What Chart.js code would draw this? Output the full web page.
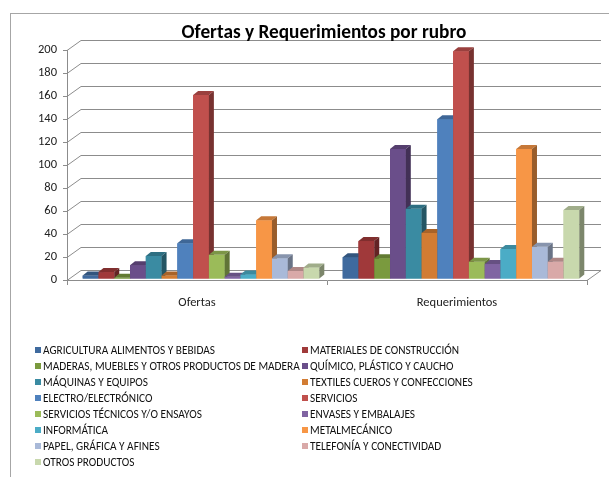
<!DOCTYPE html>
<html>
<head>
<meta charset="utf-8">
<script src="https://cdn.jsdelivr.net/npm/chart.js@4.4.1/dist/chart.umd.min.js"></script>
<style>
  html, body { margin: 0; padding: 0; background: #fff; overflow: hidden; }
  #wrap { position: relative; width: 609px; height: 477px; }
  #frame { position: absolute; left: 10px; top: 13px; width: 700px; height: 600px; border: 1px solid #a6a6a6; }
  canvas { position: absolute; left: 0; top: 0; }
  #legend {
    position: absolute; left: 35px; top: 342px;
    display: grid; grid-template-columns: 267px 300px; grid-auto-rows: 16px;
    font-family: Carlito, Lato, sans-serif; font-size: 11.3px; color: #111;
  }
  #legend .item { display: flex; align-items: center; white-space: nowrap; }
  #legend .box { width: 6px; height: 6px; margin-right: 2px; flex: none; }
</style>
</head>
<body>
<div id="wrap">
  <div id="frame"></div>
  <canvas id="chart" width="609" height="477"></canvas>
  <div id="legend"></div>
</div>

<script>
  const chartTitle = 'Ofertas y Requerimientos por rubro';
  const categories = ['Ofertas', 'Requerimientos'];

  const rubros = [
    'AGRICULTURA ALIMENTOS Y BEBIDAS',
    'MATERIALES DE CONSTRUCCIÓN',
    'MADERAS, MUEBLES Y OTROS PRODUCTOS DE MADERA',
    'QUÍMICO, PLÁSTICO Y CAUCHO',
    'MÁQUINAS Y EQUIPOS',
    'TEXTILES CUEROS Y CONFECCIONES',
    'ELECTRO/ELECTRÓNICO',
    'SERVICIOS',
    'SERVICIOS TÉCNICOS Y/O ENSAYOS',
    'ENVASES Y EMBALAJES',
    'INFORMÁTICA',
    'METALMECÁNICO',
    'PAPEL, GRÁFICA Y AFINES',
    'TELEFONÍA Y CONECTIVIDAD',
    'OTROS PRODUCTOS'
  ];

  const ofertas        = [3, 6, 1, 12, 20, 3, 31, 160, 21, 2, 4, 51, 18, 7, 10];
  const requerimientos = [19, 33, 18, 113, 61, 40, 139, 198, 15, 13, 26, 113, 28, 15, 60];

  const colores = [
    '#3f6a9e', '#a0393a', '#7a9a3e', '#6a4e8a', '#3a8ba2',
    '#d27c33', '#4f81bd', '#c0504d', '#9bbb59', '#8064a2',
    '#4bacc6', '#f79646', '#a9b9d8', '#d9a9a8', '#c8d8ad'
  ];

  const yTicks = { min: 0, max: 200, step: 20 };

  const font = 'Carlito, Lato, sans-serif';
  const gridColor = '#8c8c8c';
  const wall = { dx: 14, dy: 10 };      // back wall offset
  const barDepth = { dx: 5, dy: 4 };    // bar side/top size
  const barShift = { x: 4, y: -1 };     // bars sit mid-depth

  function shade(hex, f) {
    const n = parseInt(hex.slice(1), 16);
    const r = Math.round(((n >> 16) & 255) * f);
    const g = Math.round(((n >> 8) & 255) * f);
    const b = Math.round((n & 255) * f);
    return `rgb(${r},${g},${b})`;
  }

  // 3D walls + bar faces
  const bars3d = {
    id: 'bars3d',
    beforeDatasetsDraw(chart) {
      const { ctx, chartArea: a, scales: { y } } = chart;
      ctx.save();
      ctx.strokeStyle = gridColor;
      ctx.lineWidth = 1;
      y.ticks.forEach(t => {
        const py = Math.round(y.getPixelForValue(t.value)) + 0.5;
        ctx.beginPath();
        ctx.moveTo(a.left, py);
        ctx.lineTo(a.left + wall.dx, py - wall.dy);
        ctx.lineTo(a.right + wall.dx, py - wall.dy);
        ctx.stroke();
      });
      const py0 = Math.round(y.getPixelForValue(0)) + 0.5;
      ctx.beginPath();
      ctx.moveTo(a.right + wall.dx, py0 - wall.dy);
      ctx.lineTo(a.right, py0);
      ctx.stroke();
      ctx.restore();

      ctx.save();
      ctx.translate(barShift.x, barShift.y);
    },
    afterDatasetsDraw(chart) {
      const ctx = chart.ctx;
      const bars = [];
      chart.data.datasets.forEach((ds, i) => {
        chart.getDatasetMeta(i).data.forEach(el => bars.push({ el, color: ds.backgroundColor }));
      });
      bars.sort((p, q) => p.el.x - q.el.x);
      const { dx, dy } = barDepth;
      bars.forEach(({ el, color }) => {
        const l = el.x - el.width / 2, r = el.x + el.width / 2, t = el.y, b = el.base;
        ctx.fillStyle = color;
        ctx.fillRect(l, t, r - l, b - t);
        ctx.fillStyle = shade(color, 0.8);
        ctx.beginPath();
        ctx.moveTo(l, t); ctx.lineTo(l + dx, t - dy); ctx.lineTo(r + dx, t - dy); ctx.lineTo(r, t);
        ctx.closePath(); ctx.fill();
        ctx.fillStyle = shade(color, 0.62);
        ctx.beginPath();
        ctx.moveTo(r, t); ctx.lineTo(r + dx, t - dy); ctx.lineTo(r + dx, b - dy); ctx.lineTo(r, b);
        ctx.closePath(); ctx.fill();
      });
      ctx.restore();
    },
    afterDraw(chart) {
      const ctx = chart.ctx;
      ctx.save();
      ctx.font = `bold 19.3px ${font}`;
      ctx.fillStyle = '#000';
      ctx.textAlign = 'center';
      ctx.textBaseline = 'alphabetic';
      ctx.fillText(chartTitle, 324, 38);
      ctx.restore();
    }
  };

  const datasets = rubros.map((name, i) => ({
    label: name,
    data: [ofertas[i], requerimientos[i]],
    backgroundColor: colores[i],
    borderWidth: 0
  }));

  new Chart(document.getElementById('chart'), {
    type: 'bar',
    data: { labels: categories, datasets },
    options: {
      responsive: false,
      animation: false,
      layout: { padding: { left: 0, right: 22, top: 50, bottom: 0 } },
      datasets: { bar: { categoryPercentage: 0.91, barPercentage: 1 } },
      plugins: { legend: { display: false }, title: { display: false }, tooltip: { enabled: false } },
      scales: {
        x: {
          grid: { drawOnChartArea: false, drawTicks: true, tickLength: 5, color: gridColor },
          border: { color: gridColor },
          ticks: { color: '#222', font: { family: font, size: 12.5 }, padding: 10 },
          afterFit: s => { s.height = 197; }
        },
        y: {
          min: yTicks.min, max: yTicks.max,
          grid: { drawOnChartArea: false, drawTicks: true, tickLength: 4, color: gridColor },
          border: { color: gridColor },
          ticks: { stepSize: yTicks.step, color: '#222', font: { family: font, size: 12.5 }, padding: 6 },
          afterFit: s => { s.width = 67; }
        }
      }
    },
    plugins: [bars3d]
  });

  // legend, two columns in dataset order
  const legend = document.getElementById('legend');
  rubros.forEach((name, i) => {
    const item = document.createElement('div');
    item.className = 'item';
    const box = document.createElement('span');
    box.className = 'box';
    box.style.background = colores[i];
    item.appendChild(box);
    item.appendChild(document.createTextNode(name));
    legend.appendChild(item);
  });
</script>
</body>
</html>
